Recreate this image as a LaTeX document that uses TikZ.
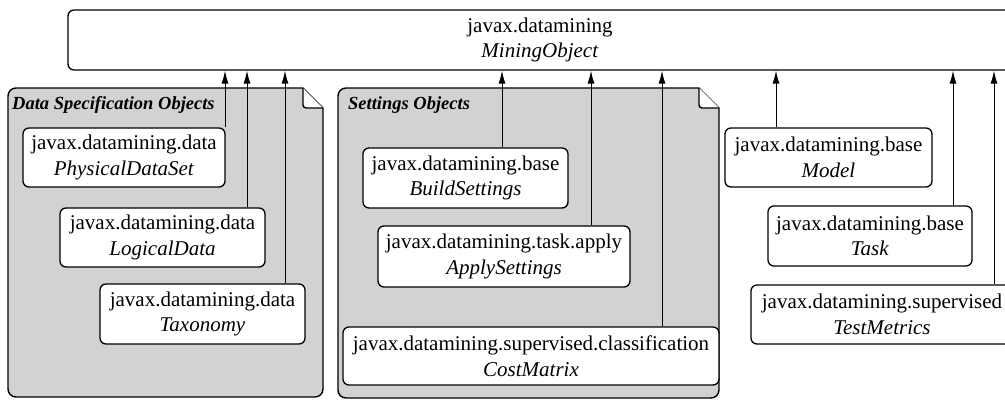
\documentclass[tikz,border=0pt]{standalone}
\usepackage{fontspec}
\setmainfont{Liberation Serif}
\usetikzlibrary{arrows.meta}
\definecolor{foldergray}{RGB}{209,210,212}
\tikzset{
  cls/.style={draw, line width=1.3pt, rounded corners=6pt, fill=white, inner sep=0pt,
    align=center, font=\fontsize{21}{25.5}\selectfont},
  arr/.style={line width=1pt, -{Latex[length=13pt,width=7pt]}},
  foldline/.style={line width=1.4pt, line join=round},
  ftitle/.style={anchor=base west, inner sep=0pt, font=\fontsize{18.5}{22}\selectfont\bfseries\itshape}
}
\begin{document}
\begin{tikzpicture}[x=1pt,y=1pt]
\useasboundingbox (0,0) rectangle (1005,-400);
\clip (0,0) rectangle (1005,-400);
% folders
\draw[foldline, fill=foldergray] (303,-88) -- (323,-108) -- (323,-389) arc[start angle=0,end angle=-90,radius=8]
  -- (16,-397) arc[start angle=-90,end angle=-180,radius=8] -- (8,-96) arc[start angle=180,end angle=90,radius=8] -- cycle;
\fill[white] (303,-88) -- (323,-108) -- (303,-108) -- cycle;
\draw[foldline, rounded corners=3pt] (303,-88) -- (303,-108) -- (323,-108);
\node[ftitle] (dtitle) at (12,-109.5) {Data Specification Objects};

\draw[foldline, fill=foldergray] (699,-88) -- (719,-108) -- (719,-390) arc[start angle=0,end angle=-90,radius=8]
  -- (346,-398) arc[start angle=-90,end angle=-180,radius=8] -- (338,-96) arc[start angle=180,end angle=90,radius=8] -- cycle;
\fill[white] (699,-88) -- (719,-108) -- (699,-108) -- cycle;
\draw[foldline, rounded corners=3pt] (699,-88) -- (699,-108) -- (719,-108);
\node[ftitle] (stitle) at (348,-109.5) {Settings Objects};

% top
\node[cls, minimum width=944pt, minimum height=60pt] (top) at (540,-40) {javax.datamining\\\textit{MiningObject}};

% data spec
\node[cls, minimum width=202pt, minimum height=59pt] (phys) at (124,-157.5) {javax.datamining.data\\\textit{PhysicalDataSet}};
\node[cls, minimum width=205pt, minimum height=59pt] (log) at (162.5,-237.5) {javax.datamining.data\\\textit{LogicalData}};
\node[cls, minimum width=205pt, minimum height=60pt] (tax) at (202.5,-314) {javax.datamining.data\\\textit{Taxonomy}};

% settings
\node[cls, minimum width=205pt, minimum height=60pt] (build) at (465.5,-178) {javax.datamining.base\\\textit{BuildSettings}};
\node[cls, minimum width=252pt, minimum height=61pt] (apply) at (504,-256.5) {javax.datamining.task.apply\\\textit{ApplySettings}};
\node[cls, minimum width=376pt, minimum height=58pt] (cost) at (531,-356) {javax.datamining.supervised.classification\\\textit{CostMatrix}};

% right
\node[cls, minimum width=207pt, minimum height=59pt] (model) at (828.5,-157.5) {javax.datamining.base\\\textit{Model}};
\node[cls, minimum width=204pt, minimum height=60pt] (task) at (870,-236) {javax.datamining.base\\\textit{Task}};
\node[cls, minimum width=262pt, minimum height=59pt] (test) at (882,-314.5) {javax.datamining.supervised\\\textit{TestMetrics}};

% connector x positions
\coordinate (x1) at (225,0);
\coordinate (x2) at (247,0);
\coordinate (x3) at (285,0);
\coordinate (x4) at (502,0);
\coordinate (x5) at (591,0);
\coordinate (x6) at (662,0);
\coordinate (x7) at (776,0);
\coordinate (x8) at (953,0);
\coordinate (x9) at (994,0);

\draw[arr] (phys.north -| x1) -- (top.south -| x1);
\draw[arr] (log.north -| x2) -- (top.south -| x2);
\draw[arr] (tax.north -| x3) -- (top.south -| x3);
\draw[arr] (build.north -| x4) -- (top.south -| x4);
\draw[arr] (apply.north -| x5) -- (top.south -| x5);
\draw[arr] (cost.north -| x6) -- (top.south -| x6);
\draw[arr] (model.north -| x7) -- (top.south -| x7);
\draw[arr] (task.north -| x8) -- (top.south -| x8);
\draw[arr] (test.north -| x9) -- (top.south -| x9);
\end{tikzpicture}
\end{document}
